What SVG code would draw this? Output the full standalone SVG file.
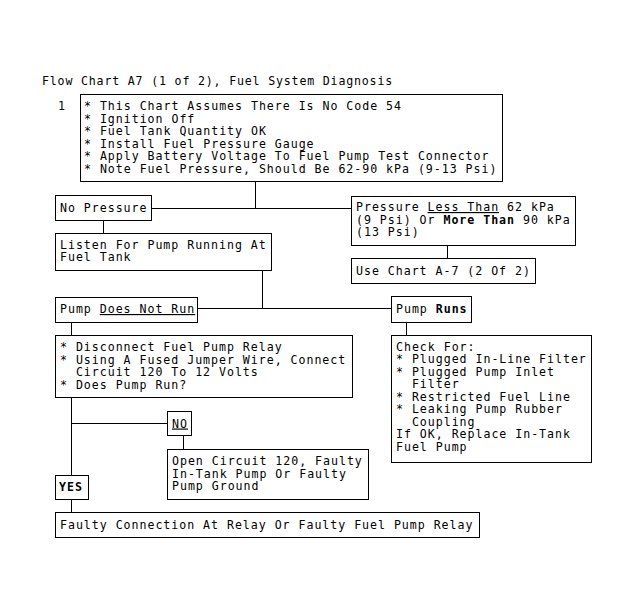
<svg xmlns="http://www.w3.org/2000/svg" width="630" height="614" viewBox="0 0 630 614">
<style>
  text { font-family: "DejaVu Sans Mono", "Liberation Mono", monospace; font-size: 11.6px; letter-spacing: 0.97px; fill: #000; white-space: pre; }
  .box { fill: #fff; stroke: #000; stroke-width: 1; }
  .conn line { stroke: #000; stroke-width: 1; }
  .b { font-weight: bold; }
  .u { text-decoration: underline; }
</style>
<rect width="630" height="614" fill="#fff"/>
<text id="title" x="42" y="85" style="letter-spacing:0.82px">Flow Chart A7 (1 of 2), Fuel System Diagnosis</text>

<g class="conn" id="connectors">
  <line x1="255.5" y1="182" x2="255.5" y2="208.5"/>
  <line x1="152" y1="208.5" x2="352" y2="208.5"/>
  <line x1="447.5" y1="246" x2="447.5" y2="258"/>
  <line x1="103.5" y1="221" x2="103.5" y2="233"/>
  <line x1="262.5" y1="271" x2="262.5" y2="308.5"/>
  <line x1="198" y1="308.5" x2="391" y2="308.5"/>
  <line x1="71.5" y1="322" x2="71.5" y2="335"/>
  <line x1="406.5" y1="322" x2="406.5" y2="335"/>
  <line x1="71.5" y1="398" x2="71.5" y2="475"/>
  <line x1="71.5" y1="423.5" x2="167" y2="423.5"/>
  <line x1="183.5" y1="436" x2="183.5" y2="449"/>
  <line x1="71.5" y1="500" x2="71.5" y2="512"/>
</g>

<g id="n1">
  <text x="58" y="110">1</text>
  <rect class="box" x="80.5" y="94.5" width="422" height="87"/>
  <text x="84" y="110">* This Chart Assumes There Is No Code 54</text>
  <text x="84" y="122.5">* Ignition Off</text>
  <text x="84" y="135">* Fuel Tank Quantity OK</text>
  <text x="84" y="147.5">* Install Fuel Pressure Gauge</text>
  <text x="84" y="160">* Apply Battery Voltage To Fuel Pump Test Connector</text>
  <text x="84" y="172.5">* Note Fuel Pressure, Should Be 62-90 kPa (9-13 Psi)</text>
</g>

<g id="noPressure">
  <rect class="box" x="55.5" y="195.5" width="96" height="25"/>
  <text x="60" y="212">No Pressure</text>
</g>

<g id="pressureRange">
  <rect class="box" x="351.5" y="196.5" width="224" height="49"/>
  <text x="356" y="211">Pressure <tspan class="u">Less Than</tspan> 62 kPa</text>
  <text x="356" y="223.5">(9 Psi) Or <tspan class="b">More Than</tspan> 90 kPa</text>
  <text x="356" y="236">(13 Psi)</text>
</g>

<g id="useChart">
  <rect class="box" x="351.5" y="258.5" width="184" height="25"/>
  <text x="356" y="275">Use Chart A-7 (2 Of 2)</text>
</g>

<g id="listen">
  <rect class="box" x="55.5" y="233.5" width="216" height="37"/>
  <text x="60" y="248.5">Listen For Pump Running At</text>
  <text x="60" y="261">Fuel Tank</text>
</g>

<g id="pumpNotRun">
  <rect class="box" x="55.5" y="297.5" width="142" height="25"/>
  <text x="60" y="313">Pump <tspan class="u">Does Not Run</tspan></text>
</g>

<g id="pumpRuns">
  <rect class="box" x="391.5" y="296.5" width="80" height="26"/>
  <text x="396" y="313">Pump <tspan class="b">Runs</tspan></text>
</g>

<g id="disconnect">
  <rect class="box" x="55.5" y="335.5" width="297" height="62"/>
  <text x="60" y="351">* Disconnect Fuel Pump Relay</text>
  <text x="60" y="363.5">* Using A Fused Jumper Wire, Connect</text>
  <text x="60" y="376">  Circuit 120 To 12 Volts</text>
  <text x="60" y="388.5">* Does Pump Run?</text>
</g>

<g id="checkFor">
  <rect class="box" x="391.5" y="335.5" width="200" height="127"/>
  <text x="396" y="350.5">Check For:</text>
  <text x="396" y="363">* Plugged In-Line Filter</text>
  <text x="396" y="375.5">* Plugged Pump Inlet</text>
  <text x="396" y="388">  Filter</text>
  <text x="396" y="400.5">* Restricted Fuel Line</text>
  <text x="396" y="413">* Leaking Pump Rubber</text>
  <text x="396" y="425.5">  Coupling</text>
  <text x="396" y="438">If OK, Replace In-Tank</text>
  <text x="396" y="450.5">Fuel Pump</text>
</g>

<g id="no">
  <rect class="box" x="167.5" y="411.5" width="24" height="24"/>
  <text x="172" y="427.5" class="u">NO</text>
</g>

<g id="openCircuit">
  <rect class="box" x="167.5" y="449.5" width="201" height="50"/>
  <text x="172" y="465">Open Circuit 120, Faulty</text>
  <text x="172" y="477.5">In-Tank Pump Or Faulty</text>
  <text x="172" y="490">Pump Ground</text>
</g>

<g id="yes">
  <rect class="box" x="55.5" y="475.5" width="33" height="24"/>
  <text x="59" y="491" class="b">YES</text>
</g>

<g id="faulty">
  <rect class="box" x="55.5" y="512.5" width="424" height="25"/>
  <text x="60" y="529">Faulty Connection At Relay Or Faulty Fuel Pump Relay</text>
</g>
</svg>
